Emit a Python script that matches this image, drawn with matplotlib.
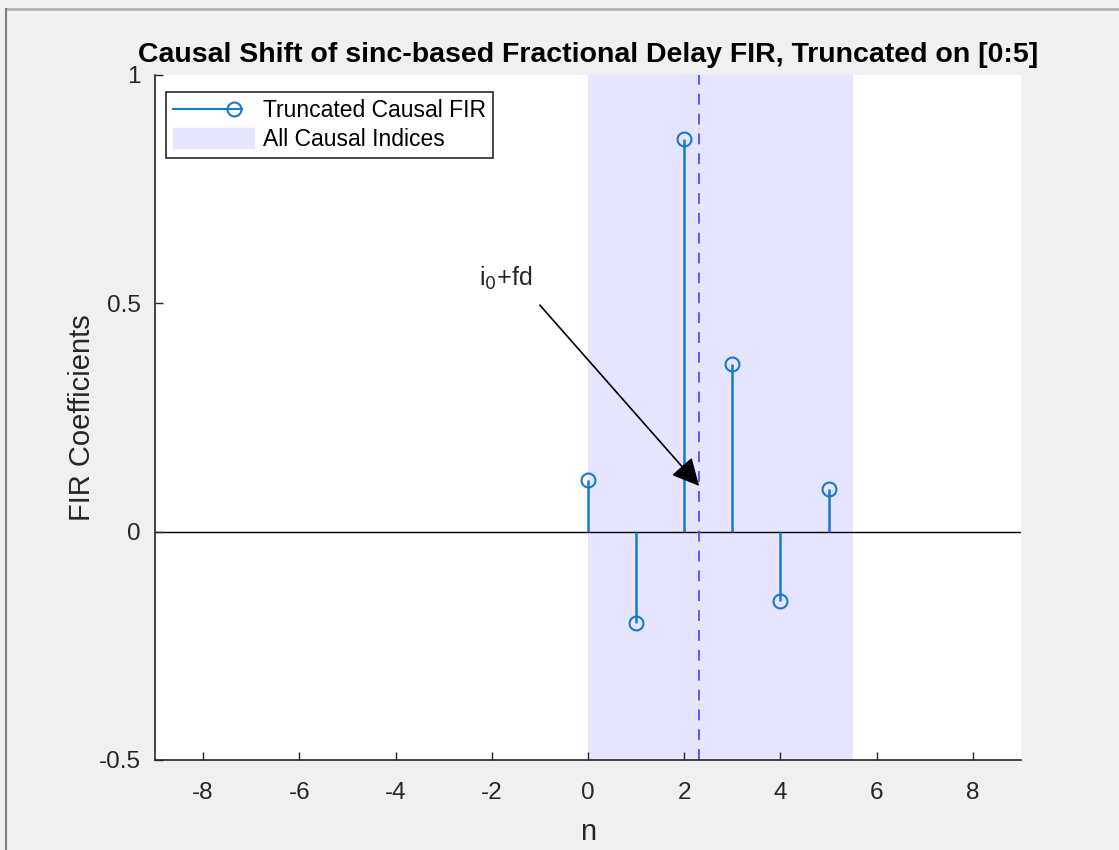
import matplotlib.pyplot as plt
from matplotlib.lines import Line2D
from matplotlib.patches import Patch
from matplotlib.legend_handler import HandlerBase

plt.rcParams["font.family"] = ["Liberation Sans", "DejaVu Sans"]
plt.rcParams["axes.unicode_minus"] = False

# truncated causal FIR taps on n = 0..5
n = [0, 1, 2, 3, 4, 5]
coeffs = [0.112, -0.200, 0.860, 0.368, -0.151, 0.094]
delay = 2.31          # i0 + fd
span = (0, 5.5)       # all causal indices
x_ticks = [-8, -6, -4, -2, 0, 2, 4, 6, 8]
y_ticks = [-0.5, 0, 0.5, 1]

BG = "#F0F0F0"
STEM = "#1A78CC"
SHADE = "#E5E5FF"
INK = "#262626"


class StemHandler(HandlerBase):
    # line with the circle marker at its right end
    def create_artists(self, legend, orig_handle, xdescent, ydescent,
                       width, height, fontsize, trans):
        y = height / 2 - ydescent
        line = Line2D([-xdescent, width - xdescent - 8], [y, y], color=STEM,
                      lw=1.5, transform=trans)
        mark = Line2D([width - xdescent - 14], [y], marker="o", ms=10, mfc="none",
                      mec=STEM, mew=1.5, ls="none", transform=trans)
        return [line, mark]


fig = plt.figure(figsize=(11.19, 8.5), dpi=100, facecolor=BG)
ax = fig.add_axes([0.1385, 0.1059, 0.7739, 0.8059])
ax.set_facecolor("white")

ax.axvspan(*span, color=SHADE, lw=0, zorder=0)
ax.axhline(0, color="black", lw=1, zorder=1)
ax.axvline(delay, color="#5050FF", lw=1.3, ls=(0, (6, 5)), zorder=2)

markerline, stemlines, baseline = ax.stem(n, coeffs, basefmt=" ")
plt.setp(stemlines, color=STEM, lw=1.8)
plt.setp(markerline, color=STEM, marker="o", ms=10, mfc="none", mew=1.5)

ax.annotate("", xy=(delay, 0.10), xytext=(-1.0, 0.496),
            arrowprops=dict(arrowstyle="-|>,head_length=0.6,head_width=0.3",
                            color="black", lw=1.2,
                            mutation_scale=28, shrinkA=0, shrinkB=0))
ax.text(-1.7, 0.555, r"i$_0$+fd", fontsize=18, ha="center", va="center",
        color=INK)

ax.set_xlim(-9, 9)
ax.set_ylim(-0.5, 1)
ax.set_xticks(x_ticks)
ax.set_yticks(y_ticks)
ax.set_yticklabels(["-0.5", "0", "0.5", "1"])
ax.tick_params(direction="in", length=6, width=1, colors=INK, labelsize=17.5)
ax.tick_params(axis="x", pad=16)
ax.tick_params(axis="y", pad=10)
for side in ("top", "right"):
    ax.spines[side].set_visible(False)
for side in ("left", "bottom"):
    ax.spines[side].set_color(INK)
    ax.spines[side].set_linewidth(1.2)

ax.set_xlabel("n", fontsize=21, color=INK, labelpad=10)
ax.set_ylabel("FIR Coefficients", fontsize=21, color=INK)
ax.yaxis.set_label_coords(-0.068, 0.5)
ax.set_title("Causal Shift of sinc-based Fractional Delay FIR, Truncated on [0:5]",
             fontsize=20.5, fontweight="bold", color="black", pad=9)

stem_proxy = Line2D([], [], color=STEM)
leg = ax.legend([stem_proxy, Patch(color=SHADE)],
                ["Truncated Causal FIR", "All Causal Indices"],
                handler_map={stem_proxy: StemHandler()},
                loc="upper left", bbox_to_anchor=(0.008, 0.982),
                fontsize=16.5, frameon=True, fancybox=False, framealpha=1,
                edgecolor=INK, handlelength=3.5, handleheight=1.0,
                borderpad=0.3, labelspacing=0.25, handletextpad=0.4,
                borderaxespad=0.2)
leg.get_frame().set_linewidth(1.2)

# window frame edges
fig.add_artist(Line2D([0.005, 1], [0.990, 0.990], color="#B4B4B4", lw=2))
fig.add_artist(Line2D([0.005, 0.005], [0, 0.990], color="#808080", lw=1.5))

fig.savefig("out.png", dpi=100, facecolor=BG)
